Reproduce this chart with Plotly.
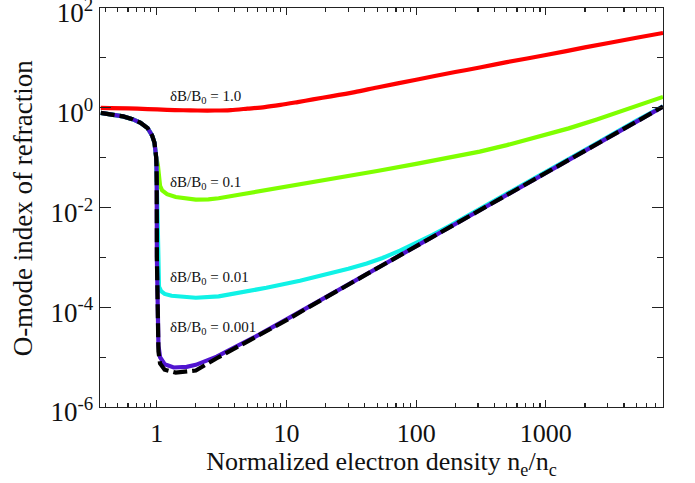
import plotly.graph_objects as go
import numpy as np

# ---- data ----
# shared under-dense branch (ne < nc) for dB/B0 = 0.1, 0.01, 0.001 and the limit curve
x_under = [0.37, 0.45, 0.55, 0.65, 0.75, 0.85, 0.92, 0.96, 0.98, 0.99, 0.995, 0.998, 0.999]
n_under = [0.79, 0.74, 0.67, 0.59, 0.50, 0.39, 0.28, 0.20, 0.14, 0.10, 0.07, 0.045, 0.032]

# dB/B0 = 1.0
x_red = [0.37, 0.6, 0.85, 1.2, 1.6, 2.07, 2.8, 3.72, 5.0, 6.8, 9, 12.2, 16, 22, 33.6, 50,
         100, 200, 309, 500, 1000, 2000, 5000, 8000]
n_red = [0.99, 0.97, 0.94, 0.91, 0.89, 0.88, 0.88, 0.90, 0.96, 1.03, 1.14, 1.30, 1.47, 1.69,
         2.06, 2.55, 3.65, 5.2, 6.4, 8.2, 11.4, 16.2, 25.3, 31.6]

# dB/B0 = 0.1 (over-dense part)
x_green = [1.0, 1.02, 1.03, 1.04, 1.06, 1.1, 1.2, 1.4, 1.7, 2.0, 2.5, 3.0, 4.3, 10, 20, 30, 50,
           100, 200, 309, 500, 1000, 1500, 2470, 3500, 4450, 6000, 8000]
n_green = [0.09, 0.07, 0.05, 0.034, 0.027, 0.022, 0.0185, 0.0162, 0.0149, 0.0144, 0.0146, 0.0153,
           0.018, 0.026, 0.035, 0.042, 0.054, 0.075, 0.104, 0.132, 0.178, 0.285, 0.386, 0.582,
           0.79, 0.99, 1.29, 1.65]

# dB/B0 = 0.01 (over-dense part)
x_cyan = [1.005, 1.01, 1.02, 1.04, 1.08, 1.15, 1.3, 1.6, 2.0, 3.0, 4.3, 7, 12.7, 20, 30, 41.6,
          55, 75, 100, 134, 180, 246, 340, 441, 630, 1000, 2260, 3300, 5000, 8000]
n_cyan = [0.01, 1.5e-3, 4e-4, 2.6e-4, 2.1e-4, 1.85e-4, 1.7e-4, 1.6e-4, 1.55e-4, 1.65e-4, 1.95e-4,
          2.46e-4, 3.4e-4, 4.5e-4, 5.9e-4, 7.55e-4, 9.7e-4, 1.37e-3, 1.93e-3, 2.82e-3, 4.25e-3,
          6.65e-3, 0.0106, 0.0156, 0.0262, 0.052, 0.17, 0.30, 0.55, 1.07]

# dB/B0 = 0.001 (over-dense part)
x_purple = [1.002, 1.01, 1.03, 1.06, 1.15, 1.35, 1.7, 2.0, 2.9, 4.3, 6.2, 10, 15, 20, 30, 41.6,
            55, 75, 100, 134, 180, 246, 340, 441, 630, 1000, 2260, 3300, 5000, 8000]
n_purple = [1e-3, 5e-5, 1.7e-5, 1.0e-5, 7.2e-6, 6.2e-6, 6.4e-6, 7.0e-6, 1.02e-5, 1.75e-5,
            2.85e-5, 5.7e-5, 1.04e-4, 1.6e-4, 2.86e-4, 4.6e-4, 6.95e-4, 1.10e-3, 1.67e-3,
            2.58e-3, 3.97e-3, 6.3e-3, 0.0101, 0.0149, 0.0251, 0.0496, 0.164, 0.286, 0.527, 1.05]

# limit curve (black dashed, over-dense part)
x_black = [1.002, 1.01, 1.03, 1.06, 1.15, 1.4, 2.0, 2.9, 4.3, 6.2, 10, 15, 20, 30, 41.6,
           55, 75, 100, 134, 180, 246, 340, 441, 630, 1000, 2260, 3300, 5000, 8000]
n_black = [1e-3, 4e-5, 1.3e-5, 7.5e-6, 5.6e-6, 4.9e-6, 5.4e-6, 9.5e-6, 1.65e-5, 2.7e-5, 5.5e-5,
           1.02e-4, 1.58e-4, 2.85e-4, 4.6e-4, 6.95e-4, 1.10e-3, 1.67e-3, 2.58e-3, 3.97e-3,
           6.3e-3, 0.0101, 0.0149, 0.0251, 0.0496, 0.164, 0.286, 0.527, 1.05]

labels = ["δB/B<sub>0</sub> = 1.0", "δB/B<sub>0</sub> = 0.1",
          "δB/B<sub>0</sub> = 0.01", "δB/B<sub>0</sub> = 0.001"]

x_major = [1, 10, 100, 1000]
x_major_text = ["1", "10", "100", "1000"]
x_minor = [0.4, 0.5, 0.6, 0.7, 0.8, 0.9] + [m * d for d in (1, 10, 100) for m in range(2, 10)] \
          + [2000, 3000, 4000, 5000, 6000, 7000, 8000]
y_major = [1e2, 1e0, 1e-2, 1e-4, 1e-6]
y_major_text = ["10<sup>2</sup>", "10<sup>0</sup>", "10<sup>-2</sup>",
                "10<sup>-4</sup>", "10<sup>-6</sup>"]
y_minor = [1e1, 1e-1, 1e-3, 1e-5]

FONT = "Liberation Serif, Times New Roman, serif"

fig = go.Figure()
lw = 4.2
fig.add_trace(go.Scatter(x=x_red, y=n_red, mode="lines",
                         line=dict(color="#ff0000", width=lw, shape="spline", smoothing=0.8)))
fig.add_trace(go.Scatter(x=x_under + x_green, y=n_under + n_green, mode="lines",
                         line=dict(color="#7fff00", width=lw)))
fig.add_trace(go.Scatter(x=x_under + x_cyan, y=n_under + n_cyan, mode="lines",
                         line=dict(color="#10f2e6", width=lw)))
fig.add_trace(go.Scatter(x=x_under + x_purple, y=n_under + n_purple, mode="lines",
                         line=dict(color="#5014d0", width=lw)))
fig.add_trace(go.Scatter(x=x_under + x_black, y=n_under + n_black, mode="lines",
                         line=dict(color="#000000", width=lw, dash="14px,5px")))

# curve labels
lab_pos = [(1.216, 0.206), (1.216, -1.503), (1.216, -3.407), (1.216, -4.409)]
for txt, (lx, ly) in zip(labels, lab_pos):
    fig.add_annotation(x=np.log10(lx), y=ly, xref="x", yref="y", text=txt, showarrow=False,
                       xanchor="left", yanchor="middle",
                       font=dict(family=FONT, size=15, color="#111"))

# y-axis title
fig.add_annotation(x=-0.137, y=0.5, xref="paper", yref="paper", text="O-mode index of refraction",
                   textangle=-90, showarrow=False, xanchor="center", yanchor="middle",
                   font=dict(family=FONT, size=27, color="#111"))

axis_common = dict(showline=True, linecolor="#222", linewidth=1.3, mirror="ticks",
                   ticks="inside", tickcolor="#222", tickwidth=1.2, showgrid=False,
                   zeroline=False, tickmode="array", automargin=False,
                   ticklabeloverflow="allow")

fig.update_xaxes(type="log", range=[np.log10(0.365), np.log10(8000)],
                 tickvals=x_major, ticktext=x_major_text, ticklen=7,
                 tickfont=dict(family=FONT, size=26, color="#111"),
                 ticklabelstandoff=2,
                 minor=dict(tickmode="array", tickvals=x_minor, ticks="inside", ticklen=4,
                            tickcolor="#222", tickwidth=1.2, showgrid=False),
                 title=dict(text="Normalized electron density n<sub>e</sub>/n<sub>c</sub>",
                            font=dict(family=FONT, size=26, color="#111"), standoff=2),
                 **axis_common)
fig.update_yaxes(type="log", range=[-6, 2],
                 tickvals=y_major, ticktext=y_major_text, ticklen=11,
                 tickfont=dict(family=FONT, size=27, color="#111"),
                 ticklabelshift=5,
                 minor=dict(tickmode="array", tickvals=y_minor, ticks="inside", ticklen=6,
                            tickcolor="#222", tickwidth=1.2, showgrid=False),
                 **axis_common)

fig.update_layout(width=695, height=483, margin=dict(l=100, r=32, t=8, b=76),
                  plot_bgcolor="white", paper_bgcolor="white", showlegend=False,
                  hovermode=False)

fig.write_html("out.html", config={"displayModeBar": False, "staticPlot": True},
               post_script="document.body.style.margin='0';document.body.style.overflow='hidden';")
